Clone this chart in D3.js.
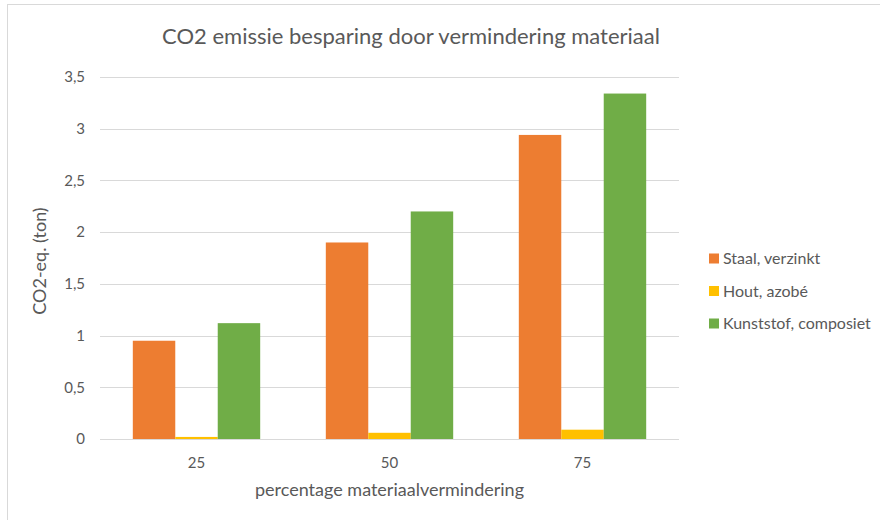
<!DOCTYPE html>
<html>
<head>
<meta charset="utf-8">
<script src="https://cdn.jsdelivr.net/npm/d3@7"></script>
<style>
  body { margin: 0; background: #fff; }
  text { font-family: Lato, "Open Sans", sans-serif; fill: #595959; }
</style>
</head>
<body>
<div id="chart"></div>
<script>
var categories = ['25', '50', '75'];
var seriesNames = ['Staal, verzinkt', 'Hout, azobé', 'Kunststof, composiet'];
var staal = [0.95, 1.90, 2.94];
var hout = [0.02, 0.06, 0.09];
var kunststof = [1.12, 2.20, 3.34];
var yTicks = [0, 0.5, 1, 1.5, 2, 2.5, 3, 3.5];
var colors = ['#ed7d31', '#ffc000', '#70ad47'];

var seriesValues = [staal, hout, kunststof];
var width = 880, height = 520;
var margin = {top: 77, right: 201, bottom: 81, left: 100};
var innerW = width - margin.left - margin.right;
var innerH = height - margin.top - margin.bottom;

var svg = d3.select('#chart').append('svg')
  .attr('width', width)
  .attr('height', height);

// chart frame
svg.append('rect')
  .attr('x', 7.5).attr('y', 4.5)
  .attr('width', 900).attr('height', 540)
  .attr('fill', 'white')
  .attr('stroke', '#d9d9d9');

var g = svg.append('g')
  .attr('transform', 'translate(' + margin.left + ',' + margin.top + ')');

var x0 = d3.scaleBand().domain(categories).range([0, innerW]).paddingInner(0).paddingOuter(0);
var x1 = d3.scaleBand().domain(d3.range(seriesNames.length))
  .range([x0.bandwidth() * 0.17, x0.bandwidth() * 0.83]);
var y = d3.scaleLinear().domain([0, 3.5]).range([innerH, 0]);

// gridlines
g.selectAll('line.grid').data(yTicks).enter().append('line')
  .attr('class', 'grid')
  .attr('x1', 0).attr('x2', innerW)
  .attr('y1', function(d) { return Math.round(y(d)) + 0.5; })
  .attr('y2', function(d) { return Math.round(y(d)) + 0.5; })
  .attr('stroke', '#d9d9d9')
  .attr('stroke-width', 1);

// bars
var groups = g.selectAll('g.cat').data(categories).enter().append('g')
  .attr('class', 'cat')
  .attr('transform', function(d) { return 'translate(' + x0(d) + ',0)'; });

groups.selectAll('rect').data(function(d, i) {
    return seriesValues.map(function(s, j) { return {s: j, v: s[i]}; });
  }).enter().append('rect')
  .attr('x', function(d) { return x1(d.s); })
  .attr('width', x1.bandwidth())
  .attr('y', function(d) { return y(d.v); })
  .attr('height', function(d) { return innerH - y(d.v); })
  .attr('fill', function(d) { return colors[d.s]; });

// axes
var yAxis = d3.axisLeft(y).tickValues(yTicks).tickSize(0).tickPadding(15)
  .tickFormat(function(d) { return String(d).replace('.', ','); });
var yg = g.append('g').call(yAxis);
yg.select('.domain').remove();
yg.selectAll('text').style('font-size', '15px').attr('fill', '#595959');

var xAxis = d3.axisBottom(x0).tickSize(0).tickPadding(18);
var xg = g.append('g').attr('transform', 'translate(0,' + innerH + ')').call(xAxis);
xg.select('.domain').remove();
xg.selectAll('text').style('font-size', '15px').attr('fill', '#595959');

// titles
svg.append('text')
  .attr('x', 411).attr('y', 44)
  .attr('text-anchor', 'middle')
  .style('font-size', '22px')
  .text('CO2 emissie besparing door vermindering materiaal');

svg.append('text')
  .attr('x', margin.left + innerW / 2).attr('y', 496)
  .attr('text-anchor', 'middle')
  .style('font-size', '18px')
  .text('percentage materiaalvermindering');

svg.append('text')
  .attr('transform', 'translate(46,' + (margin.top + innerH / 2 + 3) + ') rotate(-90)')
  .attr('text-anchor', 'middle')
  .style('font-size', '18px')
  .text('CO2-eq. (ton)');

// legend
var legend = svg.append('g').attr('transform', 'translate(709,258.5)');
var items = legend.selectAll('g').data(seriesNames).enter().append('g')
  .attr('transform', function(d, i) { return 'translate(0,' + (i * 32.5) + ')'; });
items.append('rect')
  .attr('x', 0).attr('y', -5).attr('width', 10).attr('height', 10)
  .attr('fill', function(d, i) { return colors[i]; });
items.append('text')
  .attr('x', 14).attr('y', 5.5)
  .style('font-size', '16px')
  .text(function(d) { return d; });
</script>
</body>
</html>
